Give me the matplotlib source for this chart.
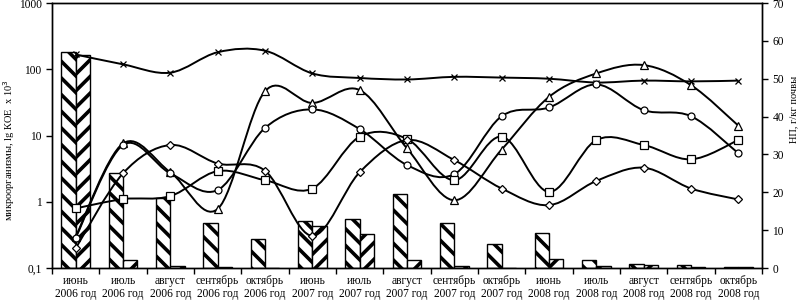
import numpy as np
import matplotlib
matplotlib.use("Agg")
import matplotlib.pyplot as plt
from matplotlib.path import Path
from matplotlib.patches import PathPatch
from matplotlib.ticker import FixedLocator, NullLocator

plt.rcParams["font.family"] = ["Liberation Serif", "DejaVu Serif"]
plt.rcParams["hatch.linewidth"] = 2.6
plt.rcParams["hatch.color"] = "black"

# ── data ──────────────────────────────────────────────────────
months = ["июнь", "июль", "август", "сентябрь", "октябрь"]
years = ["2006", "2007", "2008"]
labels = [f"{m}\n{y} год" for y in years for m in months]

# bars, left log axis (микроорганизмы, lg КОЕ x 10^3)
bars_a = [183, 2.7, 1.15, 0.48, 0.27, 0.51, 0.55, 1.32, 0.48, 0.23,
          0.34, 0.13, 0.115, 0.11, 0.102]
bars_b = [165, 0.133, 0.108, 0.104, 0.1, 0.43, 0.33, 0.13, 0.108, 0.1,
          0.138, 0.108, 0.11, 0.105, 0.102]

# lines, right axis (НП, г/кг почвы)
line_x = [56.4, 53.8, 51.6, 57.0, 57.4, 51.4, 50.2, 49.8, 50.5, 50.3,
          50.0, 49.0, 49.5, 49.3, 49.5]
line_tri = [8.3, 32.9, 25.3, 15.6, 46.7, 43.6, 47.0, 31.6, 17.9, 31.3,
            45.2, 51.4, 53.6, 48.3, 37.6]
line_circ = [8.0, 32.5, 25.0, 20.6, 37.0, 41.9, 36.7, 27.2, 24.8, 40.1,
             42.4, 48.5, 41.7, 40.1, 30.3]
line_sq = [15.75, 18.2, 19.0, 25.6, 23.2, 21.0, 34.7, 34.1, 23.2, 34.7,
           20.1, 33.8, 32.5, 28.7, 33.8]
line_dia = [5.2, 25.0, 32.5, 27.6, 25.7, 8.5, 25.3, 33.8, 28.5, 21.0,
            16.6, 23.0, 26.5, 21.0, 18.1]


def smooth_path(xs, ys):
    """Excel-like smoothed line: cubic Bezier through every point."""
    pts = np.column_stack([xs, ys]).astype(float)
    n = len(pts)
    verts = [pts[0]]
    codes = [Path.MOVETO]
    for i in range(n - 1):
        p0 = pts[i - 1] if i > 0 else pts[i]
        p1, p2 = pts[i], pts[i + 1]
        p3 = pts[i + 2] if i + 2 < n else pts[i + 1]
        c1 = p1 + (p2 - p0) / 6
        c2 = p2 - (p3 - p1) / 6
        verts += [c1, c2, p2]
        codes += [Path.CURVE4] * 3
    return Path(verts, codes)


fig = plt.figure(figsize=(7.99, 3.01), dpi=100)
ax = fig.add_axes([0.0651, 0.1096, 0.8886, 0.8804])
ax2 = ax.twinx()

x = np.arange(len(labels))
w = 0.3

# ── bars ──────────────────────────────────────────────────────
ax.set_yscale("log")
ax.bar(x - w / 2, np.array(bars_a) - 0.1, width=w, bottom=0.1,
       color="white", edgecolor="black", linewidth=1, hatch="\\\\")
ax.bar(x + w / 2, np.array(bars_b) - 0.1, width=w, bottom=0.1,
       color="white", edgecolor="black", linewidth=1, hatch="//")
ax.set_ylim(0.1, 1000)
ax.yaxis.set_major_locator(FixedLocator([0.1, 1, 10, 100, 1000]))
ax.yaxis.set_minor_locator(NullLocator())
ax.set_yticklabels(["0,1", "1", "10", "100", "1000"])
ax.set_xlim(-0.5, len(labels) - 0.5)

ax.set_xticks(np.arange(-0.5, len(labels), 1))
ax.set_xticklabels([])
ax.set_xticks(x, minor=True)
ax.set_xticklabels(labels, minor=True, fontsize=8.3, linespacing=1.1)
ax.tick_params(axis="x", which="major", length=4, direction="out", width=1)
ax.tick_params(axis="x", which="minor", length=0, pad=5)
ax.tick_params(axis="y", length=4, direction="out", width=1, labelsize=8.3)

ax.set_ylabel("микроорганизмы, lg КОЕ  x 10$^3$", fontsize=7.5)
ax.yaxis.set_label_coords(-0.05, 0.445)

# ── lines ─────────────────────────────────────────────────────
series = [
    (line_x, "x", 5),
    (line_tri, "^", 6),
    (line_circ, "o", 5),
    (line_sq, "s", 5.5),
    (line_dia, "D", 4),
]
for vals, mk, ms in series:
    ax2.add_patch(PathPatch(smooth_path(x, vals), facecolor="none",
                            edgecolor="black", linewidth=1.4, zorder=2))
for vals, mk, ms in series:
    ax2.plot(x, vals, linestyle="none", marker=mk, markersize=ms,
             markerfacecolor="white", markeredgecolor="black",
             markeredgewidth=0.9, zorder=3)

ax2.set_ylim(0, 70)
ax2.set_yticks(range(0, 71, 10))
ax2.tick_params(axis="y", length=4, direction="out", width=1, labelsize=8.3)
ax2.set_ylabel("НП, г/кг почвы", fontsize=7.5)
ax2.yaxis.set_label_coords(1.038, 0.6)

for a in (ax, ax2):
    for s in a.spines.values():
        s.set_linewidth(1)
        s.set_color("black")

fig.savefig("out.png", dpi=100)
